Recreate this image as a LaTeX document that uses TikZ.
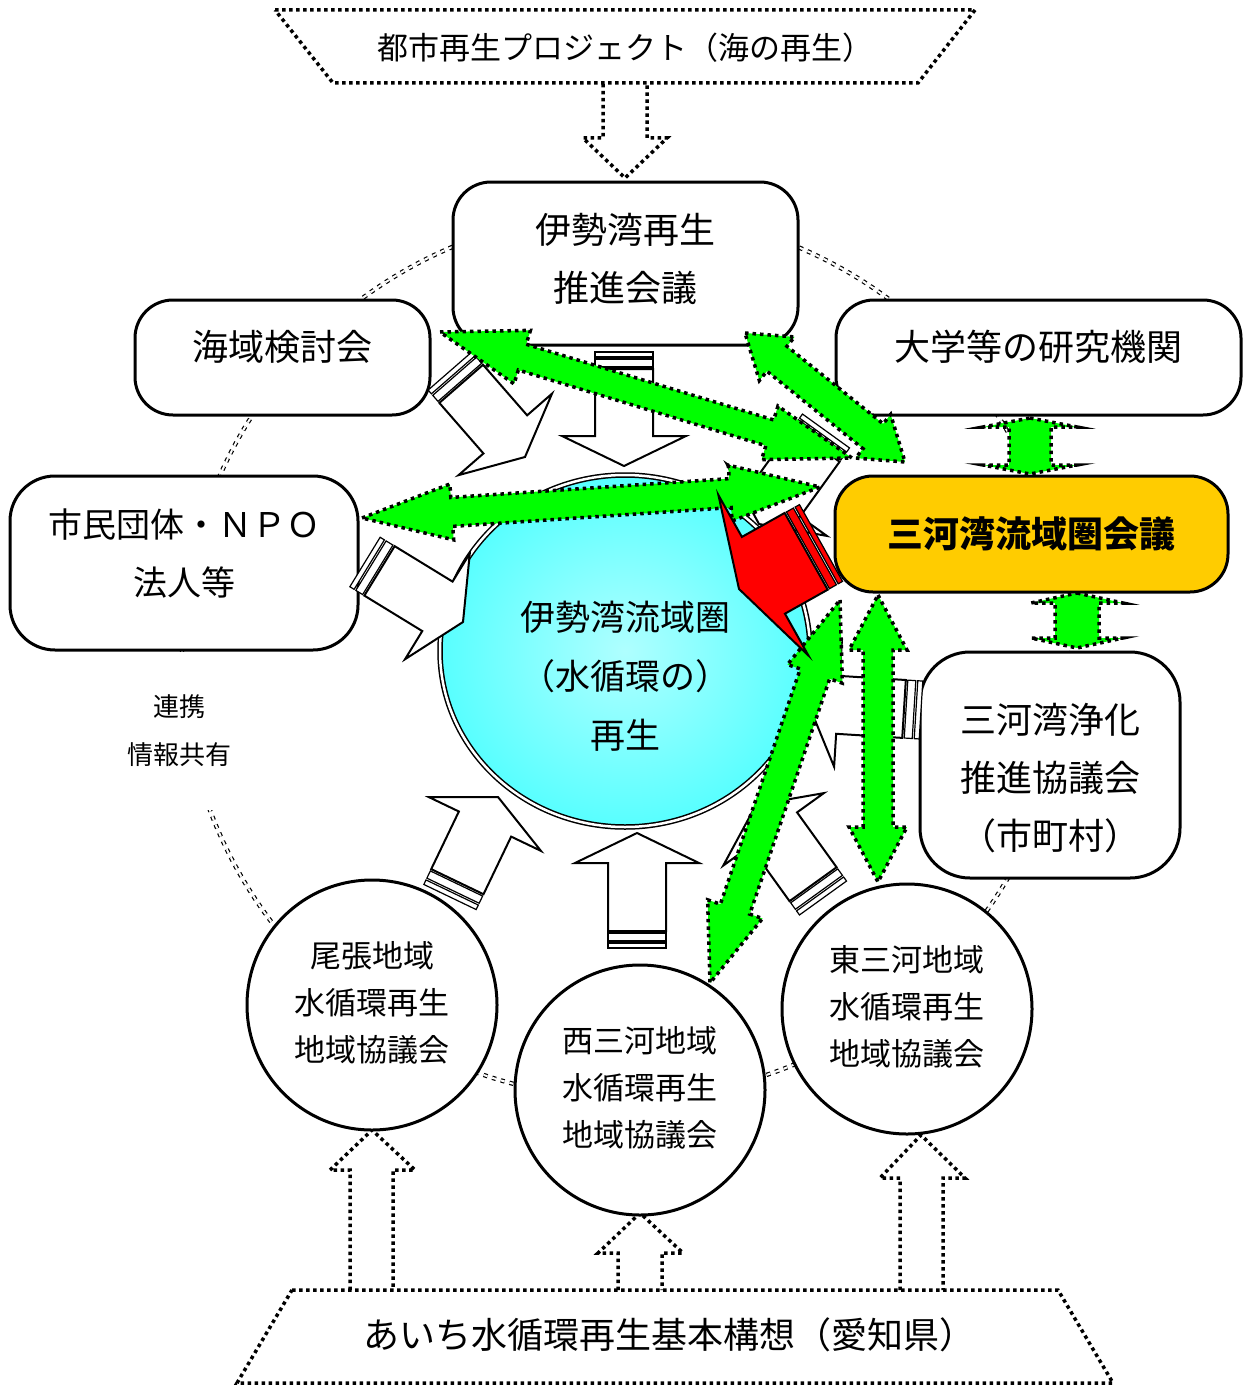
\documentclass[tikz,border=0pt]{standalone}
\usepackage{fontspec}
\newfontfamily\jp{Noto Sans CJK JP}
\usetikzlibrary{calc,shapes.geometric}
\definecolor{gfill}{RGB}{0,255,0}
\definecolor{orng}{RGB}{255,204,0}
\definecolor{cyanA}{RGB}{0,255,255}
\definecolor{cyanB}{RGB}{175,255,255}
\pgfdeclareradialshading{cyanglow}{\pgfpoint{0bp}{0bp}}{color(0bp)=(cyanB); color(50bp)=(cyanA)}
\newcommand{\grnarrow}[5]{%
  \coordinate (gha) at ($(#1)!#3!(#2)$);
  \coordinate (ghb) at ($(#2)!#3!(#1)$);
  \draw[garrowst] (#1) -- ($(gha)!#4!90:(#2)$) -- ($(gha)!#5!90:(#2)$) -- ($(ghb)!#5!-90:(#1)$) -- ($(ghb)!#4!-90:(#1)$) -- (#2) -- ($(ghb)!#4!90:(#1)$) -- ($(ghb)!#5!90:(#1)$) -- ($(gha)!#5!-90:(#2)$) -- ($(gha)!#4!-90:(#2)$) -- cycle;}
\newcommand{\strarrow}[6]{%
  \coordinate (sa) at ($(#1)!5pt!(#2)$);
  \coordinate (sb) at ($(#1)!7pt!(#2)$);
  \coordinate (sc) at ($(#1)!15pt!(#2)$);
  \coordinate (sd) at ($(#1)!17pt!(#2)$);
  \coordinate (shb) at ($(#2)!#5!(#1)$);
  \draw[stripest, fill=#6] ($(#1)!#3!90:(#2)$) -- ($(sa)!#3!90:(#2)$) -- ($(sa)!#3!-90:(#2)$) -- ($(#1)!#3!-90:(#2)$) -- cycle;
  \draw[stripest, fill=#6] ($(sb)!#3!90:(#2)$) -- ($(sc)!#3!90:(#2)$) -- ($(sc)!#3!-90:(#2)$) -- ($(sb)!#3!-90:(#2)$) -- cycle;
  \draw[warrowst, fill=#6] ($(sd)!#3!90:(#2)$) -- ($(shb)!#3!-90:(#1)$) -- ($(shb)!#4!-90:(#1)$) -- (#2) -- ($(shb)!#4!90:(#1)$) -- ($(shb)!#3!90:(#1)$) -- ($(sd)!#3!-90:(#2)$) -- cycle;}
\newcommand{\shiftv}[2]{\raisebox{#1}[\height][\depth]{#2}}
\begin{document}
\begin{tikzpicture}[x=1pt,y=-1pt,
  ringln/.style={draw=black, line width=1.2pt, double=white, double distance=2pt, dash pattern=on 4pt off 5pt},
  dotln/.style={draw=black, line width=3.5pt, dash pattern=on 3.5pt off 3.5pt},
  boxst/.style={draw=black, line width=3pt, rounded corners=38pt, fill=white, inner sep=0pt, align=center, font=\jp\fontsize{36}{58}\selectfont},
  circst/.style={draw=black, line width=3pt, circle, fill=white, inner sep=0pt, minimum size=250pt, align=center, font=\jp\fontsize{31}{47}\selectfont},
  garrowst/.style={fill=gfill, draw=black, line width=3.5pt, dash pattern=on 3.5pt off 4pt, line join=miter, miter limit=20},
  warrowst/.style={draw=black, line width=2pt, line join=miter, miter limit=20},
  stripest/.style={draw=black, line width=1.2pt},
]
\useasboundingbox (0,0) rectangle (1245,1386);

% dashed double ring
\draw[ringln] (625,655) circle[radius=443pt];

% top banner
\draw[dotln] (275,10) -- (975,10) -- (918,83) -- (333,83) -- cycle;
\node[font=\jp\fontsize{31}{36}\selectfont] (toptxt) at (625,48) {都市再生プロジェクト（海の再生）};
\draw[dotln] (603,84) -- (603,138) -- (583,138) -- (625,178) -- (667,138) -- (647,138) -- (647,84);

% bottom banner
\draw[dotln] (292,1290) -- (1058,1290) -- (1113,1383) -- (237,1383) -- cycle;
\node[font=\jp\fontsize{36}{40}\selectfont] (bottxt) at (669,1335) {あいち水循環再生基本構想（愛知県）};
\draw[dotln] (350,1290) -- (350,1170) -- (330,1170) -- (372,1130) -- (415,1170) -- (393,1170) -- (393,1290);
\draw[dotln] (618,1290) -- (618,1253) -- (598,1253) -- (640,1213) -- (683,1253) -- (662,1253) -- (662,1290);
\draw[dotln] (900,1290) -- (900,1178) -- (880,1178) -- (921,1135) -- (965,1178) -- (943,1178) -- (943,1290);

% link label (covers the ring under the text)
\node[fill=white, minimum width=110pt, minimum height=158pt, inner sep=0pt, font=\jp\fontsize{26}{48}\selectfont] (renkei) at (179,731) {\begin{tabular}{@{}c@{}}連携\\情報共有\end{tabular}};

% boxes
\node[boxst, minimum width=345pt, minimum height=163pt] (ise) at (625.5,263.5) {\shiftv{3pt}{\begin{tabular}{@{}c@{}}伊勢湾再生\\推進会議\end{tabular}}};
\node[boxst, minimum width=295pt, minimum height=115pt] (kaiiki) at (282.5,357.5) {\shiftv{11pt}{海域検討会}};
\node[boxst, minimum width=405pt, minimum height=115pt] (daigaku) at (1038.5,357.5) {\shiftv{11pt}{大学等の研究機関}};
\node[boxst, minimum width=348pt, minimum height=174pt, rounded corners=45pt, font=\jp\fontsize{34}{58}\selectfont] (shimin) at (184,563) {\shiftv{8pt}{\begin{tabular}{@{}c@{}}市民団体・ＮＰＯ\\法人等\end{tabular}}};
\node[boxst, fill=orng, minimum width=393pt, minimum height=116pt, font=\jp\bfseries\fontsize{36}{58}\selectfont] (mikawa) at (1031.5,534) {三河湾流域圏会議};
\node[boxst, minimum width=260pt, minimum height=226pt, rounded corners=50pt] (joka) at (1050,765) {\shiftv{-15pt}{\begin{tabular}{@{}c@{}}三河湾浄化\\推進協議会\\（市町村）\end{tabular}}};

% regional circles
\node[circst] (owari) at (372,1005) {\begin{tabular}{@{}c@{}}尾張地域\\水循環再生\\地域協議会\end{tabular}};
\node[circst] (nishi) at (640,1090) {\begin{tabular}{@{}c@{}}西三河地域\\水循環再生\\地域協議会\end{tabular}};
\node[circst] (higashi) at (907,1009) {\begin{tabular}{@{}c@{}}東三河地域\\水循環再生\\地域協議会\end{tabular}};

% central basin
\node[ellipse, draw=black, line width=1.5pt, double=white, double distance=2.5pt, shade, shading=cyanglow, minimum width=370pt, minimum height=352pt, inner sep=0pt, font=\jp\fontsize{35}{59}\selectfont] (basin) at (625,651) {\shiftv{-27pt}{\begin{tabular}{@{}c@{}}伊勢湾流域圏\\（水循環の）\\再生\end{tabular}}};

% white striped arrows
\coordinate (w1t) at (637,948); \coordinate (w1h) at (637,833);
\coordinate (w2t) at (450,897); \coordinate (w2h) at (498,797);
\coordinate (w3t) at (823,898); \coordinate (w3h) at (756,805);
\coordinate (w4t) at (450,371); \coordinate (w4h) at (525,457);
\coordinate (w5t) at (365,562); \coordinate (w5h) at (463,622);
\coordinate (w6t) at (624,352); \coordinate (w6h) at (624,466);
\coordinate (w7t) at (921,710); \coordinate (w7h) at (808,703);
\coordinate (w8t) at (826,431); \coordinate (w8h) at (759,524);
\strarrow{w1t}{w1h}{29pt}{62pt}{30pt}{white}
\strarrow{w2t}{w2h}{29pt}{62pt}{30pt}{white}
\strarrow{w3t}{w3h}{29pt}{62pt}{30pt}{white}
\strarrow{w4t}{w4h}{29pt}{62pt}{30pt}{white}
\strarrow{w5t}{w5h}{29pt}{62pt}{30pt}{white}
\strarrow{w6t}{w6h}{29pt}{62pt}{30pt}{white}
\strarrow{w7t}{w7h}{29pt}{62pt}{30pt}{white}
\strarrow{w8t}{w8h}{29pt}{62pt}{30pt}{white}

% green double arrows
\coordinate (ga1) at (440,332); \coordinate (ga2) at (852,458);
\coordinate (gb1) at (745,333); \coordinate (gb2) at (905,462);
\coordinate (gc1) at (362,518); \coordinate (gc2) at (820,487);
\coordinate (gd1) at (840,600); \coordinate (gd2) at (710,983);
\coordinate (ge1) at (878,595); \coordinate (ge2) at (878,882);
\coordinate (gf1) at (1030,418); \coordinate (gf2) at (1030,474);
\coordinate (gg1) at (1077,593); \coordinate (gg2) at (1077,648);
\grnarrow{ga1}{ga2}{86pt}{28pt}{13.5pt}
\grnarrow{gb1}{gb2}{41pt}{28pt}{16pt}
\grnarrow{gc1}{gc2}{90pt}{28pt}{14.5pt}
\grnarrow{gd1}{gd2}{78pt}{29pt}{15.5pt}
\grnarrow{ge1}{ge2}{55pt}{29pt}{15pt}
\grnarrow{gf1}{gf2}{9pt}{47pt}{21pt}
\grnarrow{gg1}{gg2}{10pt}{46pt}{22pt}

% red striped arrow
\coordinate (rt) at (821,543); \coordinate (rh) at (739,589);
\strarrow{rt}{rh}{44pt}{92pt}{28pt}{red}
\end{tikzpicture}
\end{document}
